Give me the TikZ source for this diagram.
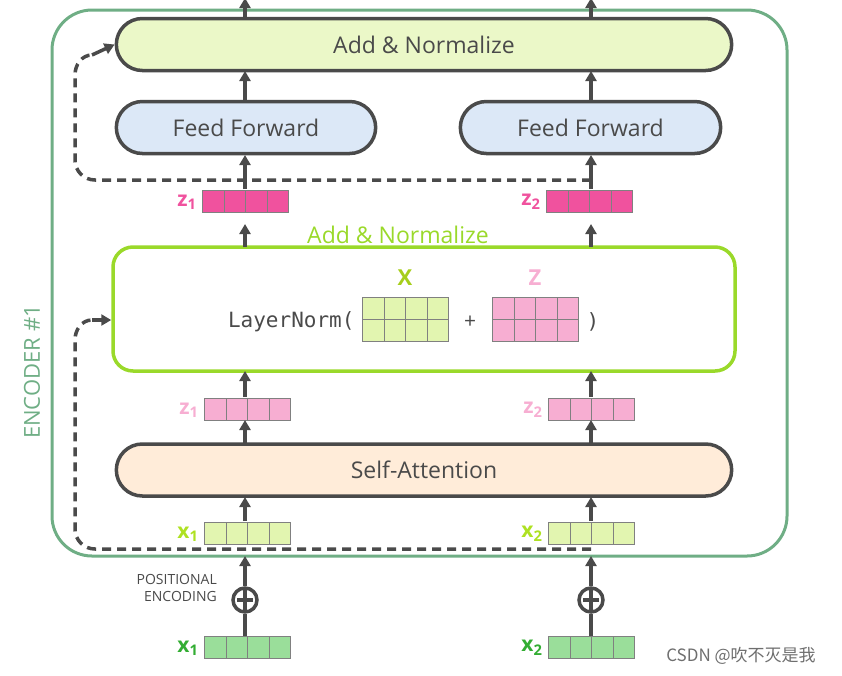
\documentclass[tikz,border=0pt]{standalone}
\usepackage{fontspec}
\setmainfont{Open Sans}
\setmonofont{DejaVu Sans Mono}
\newfontfamily\cjk{Noto Sans CJK SC}
\usetikzlibrary{arrows.meta,shapes.misc}
\definecolor{dk}{HTML}{4A4A4A}
\definecolor{enc}{HTML}{6FAE85}
\definecolor{lime}{HTML}{9AD92A}
\definecolor{magz}{HTML}{F0529E}
\definecolor{pinkz}{HTML}{F7AED2}
\definecolor{lgx}{HTML}{E2F5B0}
\definecolor{gx}{HTML}{9ADE9A}
\definecolor{ffc}{HTML}{DCE8F7}
\begin{document}
\begin{tikzpicture}[x=1pt,y=-1pt,
  blk/.style={rounded rectangle,draw=dk,line width=3.5pt,minimum height=52pt,font=\fontsize{23}{26}\selectfont,text=dk},
  arr/.style={draw=dk,line width=3.5pt,-{Triangle[width=11pt,length=10pt]}},
  dsh/.style={draw=dk,line width=3.5pt,dash pattern=on 9pt off 6pt},
  cell/.style={draw=dk!70,line width=0.8pt,minimum width=21.5pt,minimum height=22pt,inner sep=0pt},
  lab/.style={font=\bfseries\fontsize{21}{24}\selectfont}]
\useasboundingbox (0,0) rectangle (842,675);
% encoder frame
\draw[enc,line width=3pt,rounded corners=40pt] (52,10) rectangle (787,556);
\node[enc,rotate=90,font=\fontsize{22}{26}\selectfont] (enclab) at (32,372) {ENCODER \#1};
% vectors
\newcommand{\vecr}[4]{% name, x, y, color
  \foreach \i in {0,1,2,3}{\node[cell,fill=#4,anchor=north west] (#1c\i) at (#2+\i*21.5,#3) {};}
  \coordinate (#1) at (#2+43,#3+11);}
\vecr{za}{202}{190}{magz}\vecr{zb}{546}{190}{magz}
\vecr{pa}{204}{398}{pinkz}\vecr{pb}{548}{398}{pinkz}
\vecr{xa}{204}{522}{lgx}\vecr{xb}{548}{522}{lgx}
\vecr{ga}{204}{636}{gx}\vecr{gb}{548}{636}{gx}
\node[lab,magz,anchor=east] (zal) at (200,202) {z\textsubscript{1}};
\node[lab,magz,anchor=east] (zbl) at (544,202) {z\textsubscript{2}};
\node[lab,pinkz,anchor=east] (pal) at (202,410) {z\textsubscript{1}};
\node[lab,pinkz,anchor=east] (pbl) at (546,410) {z\textsubscript{2}};
\node[lab,lime!80!yellow,anchor=east] (xal) at (202,534) {x\textsubscript{1}};
\node[lab,lime!80!yellow,anchor=east] (xbl) at (546,534) {x\textsubscript{2}};
\node[lab,green!60!black!80,anchor=east] (gal) at (202,648) {x\textsubscript{1}};
\node[lab,green!60!black!80,anchor=east] (gbl) at (546,648) {x\textsubscript{2}};
% blocks
\node[blk,fill=lgx!70,minimum width=622pt] (an) at (424,44.5) {Add \& Normalize};
\node[blk,fill=ffc,minimum width=266pt] (ffa) at (246,127.5) {Feed Forward};
\node[blk,fill=ffc,minimum width=267pt] (ffb) at (590.5,127.5) {Feed Forward};
\node[blk,fill=orange!15,minimum width=622pt] (sa) at (424,470) {Self-Attention};
\node[draw=lime,line width=3.5pt,rounded corners=20pt,minimum width=622pt,minimum height=124pt] (ln) at (424,309) {};
\node[lime,font=\fontsize{23}{26}\selectfont] (lnl) at (398,235) {Add \& Normalize};
\node[font=\ttfamily\fontsize{21}{24}\selectfont,text=dk,anchor=east] (lnt) at (358,322) {LayerNorm(};
\foreach \r in {0,1}{\foreach \c in {0,1,2,3}{
  \node[cell,fill=lgx,minimum height=22pt,anchor=north west] (mx\r\c) at (362+\c*21.5,297+\r*22) {};
  \node[cell,fill=pinkz,minimum height=22pt,anchor=north west] (mz\r\c) at (492+\c*21.5,297+\r*22) {};}}
\node[font=\bfseries\fontsize{22}{26}\selectfont,text=lime!70!yellow!90!black] (xl) at (405,278) {X};
\node[font=\bfseries\fontsize{22}{26}\selectfont,text=pinkz] (zl) at (535,278) {Z};
\node[text=dk,font=\fontsize{21}{24}\selectfont] (pl) at (470,322) {+};
\node[text=dk,font=\ttfamily\fontsize{21}{24}\selectfont] (rp) at (593,322) {)};
% arrows
\foreach \c/\v in {245/a,591/b}{
  \draw[arr] (\c,18) -- (\c,-2);
  \draw[arr] (\c,100) -- (\c,71);
  \draw[arr] (\c,189) -- (\c,155);
  \draw[arr] (\c,247) -- (\c,224);
  \draw[arr] (\c,397) -- (\c,371);
  \draw[arr] (\c,443) -- (\c,420);
  \draw[arr] (\c,521) -- (\c,497);
  \node[circle,draw=dk,line width=3.5pt,minimum size=24pt,inner sep=0pt] (pc\v) at (\c,600) {};
  \draw[dk,line width=3.5pt] (\c,588) -- (\c,612) (\c-8,600) -- (\c+8,600);
  \draw[arr] (pc\v) -- (\c,556);
  \draw[dk,line width=3.5pt] (\c,636) -- (pc\v);
}
\draw[dsh] (591,180) -- (95,180) to[out=180,in=-90] (75,160) -- (75,75) to[out=90,in=180] (92,55);
\draw[arr] (92,55) -- (an.west);
\draw[dsh] (591,549) -- (95,549) to[out=180,in=-90] (75,529) -- (75,340) to[out=90,in=180] (92,320);
\draw[arr] (92,320) -- (ln.west |- 0,320);
\node[text=dk,font=\fontsize{14}{17}\selectfont,align=right,anchor=east,inner sep=0pt] (pe) at (217,588) {POSITIONAL\\ENCODING};
\node[text=dk!80,font=\cjk\fontsize{17}{20}\selectfont] (wm) at (741,656) {CSDN @吹不灭是我};
\end{tikzpicture}
\end{document}
